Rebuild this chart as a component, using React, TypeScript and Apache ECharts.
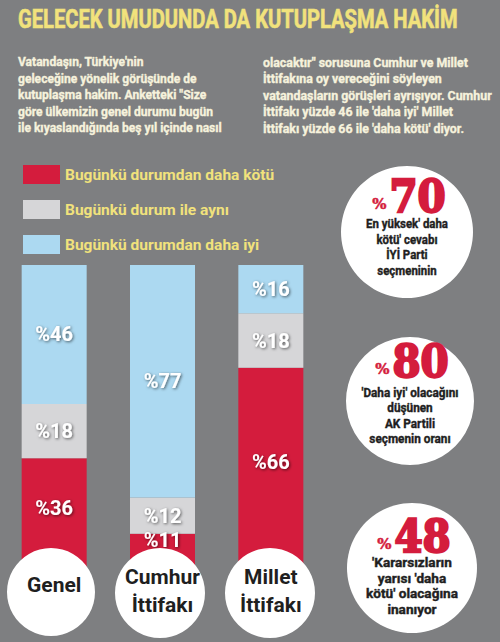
import React, { useEffect, useRef } from "react";
import * as echarts from "echarts";

// ---- data ----
const categories = ["Genel", "Cumhur\nİttifakı", "Millet\nİttifakı"];
const seriesNames = [
  "Bugünkü durumdan daha kötü",
  "Bugünkü durum ile aynı",
  "Bugünkü durumdan daha iyi",
];
const worse = [36, 11, 66];
const same = [18, 12, 18];
const better = [46, 77, 16];

const titleText = "GELECEK UMUDUNDA DA KUTUPLAŞMA HAKİM";
const introLeft = [
  "Vatandaşın, Türkiye'nin",
  "geleceğine yönelik görüşünde de",
  "kutuplaşma hakim. Anketteki \"Size",
  "göre ülkemizin genel durumu bugün",
  "ile kıyaslandığında beş yıl içinde nasıl",
];
const introRight = [
  "olacaktır\" sorusuna Cumhur ve Millet",
  "İttifakına oy vereceğini söyleyen",
  "vatandaşların görüşleri ayrışıyor. Cumhur",
  "İttifakı yüzde 46 ile 'daha iyi' Millet",
  "İttifakı yüzde 66 ile 'daha kötü' diyor.",
];
const calloutValues = [70, 80, 48];
const calloutLines = [
  ["En yüksek' daha", "kötü' cevabı", "İYİ Parti", "seçmeninin"],
  ["'Daha iyi' olacağını", "düşünen", "AK Partili", "seçmenin oranı"],
  ["'Kararsızların", "yarısı 'daha", "kötü' olacağına", "inanıyor"],
];

// ---- styling / layout ----
const BG = "#7e7f81";
const RED = "#d41c3d";
const GRAY = "#d6d6d8";
const BLUE = "#acd9f1";
const YELLOW = "#f1e27c";
const CREAM = "#f6f2dc";
const DARK = "#1f1f1f";

const calloutPos = [
  { cx: 407, cy: 232, r: 66, numY: 196, lineY: 224 },
  { cx: 410, cy: 401, r: 64, numY: 361, lineY: 392 },
  { cx: 412, cy: 568, r: 65, numY: 536, lineY: 563 },
];
const calloutWidths = [82, 97, 92];
const bottomCircles = [
  { cx: 51, cy: 592, r: 44 },
  { cx: 160, cy: 593, r: 45 },
  { cx: 270, cy: 593, r: 45 },
];
const redLabelOffsets = [-5, -10, -5];

let measureCtx: CanvasRenderingContext2D | null = null;
function measure(text: string, font: string): number {
  if (!measureCtx) measureCtx = document.createElement("canvas").getContext("2d");
  if (!measureCtx) return text.length * 7;
  measureCtx.font = font;
  return measureCtx.measureText(text).width;
}
function fit(lines: string[], font: string, target: number): number {
  const w = Math.max(...lines.map((l) => measure(l, font)));
  return w > 0 ? target / w : 1;
}

function textEl(
  text: string,
  x: number,
  y: number,
  font: string,
  fill: string,
  align: string,
  scaleX = 1,
  strokeW = 0
) {
  const style: any = {
    text,
    font,
    fill,
    align,
    textAlign: align,
    verticalAlign: "middle",
    textVerticalAlign: "middle",
  };
  if (strokeW > 0) {
    style.stroke = fill;
    style.lineWidth = strokeW;
  }
  return { type: "text", x, y, scaleX, z: 30, style };
}

export default function App() {
  const ref = useRef<HTMLDivElement>(null);

  useEffect(() => {
    if (!ref.current) return;
    const chart = echarts.init(ref.current, undefined, { renderer: "svg" });

    const graphics: any[] = [];

    // title
    const titleFont = "bold 25px Roboto";
    graphics.push(textEl(titleText, 18, 20, titleFont, YELLOW, "left", fit([titleText], titleFont, 440), 0.6));

    // intro paragraph
    const pFont = "bold 12.5px Roboto";
    const sL = fit(introLeft, pFont, 204);
    const sR = fit(introRight, pFont, 229);
    introLeft.forEach((l, i) => graphics.push(textEl(l, 18, 62 + i * 16.6, pFont, CREAM, "left", sL, 0.35)));
    introRight.forEach((l, i) => graphics.push(textEl(l, 263, 62 + i * 16.6, pFont, CREAM, "left", sR, 0.35)));

    // bottom circles (category labels sit on top via xAxis z)
    bottomCircles.forEach((c) =>
      graphics.push({ type: "circle", z: 10, shape: { cx: c.cx, cy: c.cy, r: c.r }, style: { fill: "#ffffff" } })
    );

    // right callouts
    const numFont = 'bold 44px "DejaVu Serif"';
    const pctFont = 'bold 15px "DejaVu Serif"';
    const lFont = "bold 13px Roboto";
    calloutValues.forEach((v, i) => {
      const p = calloutPos[i];
      graphics.push({ type: "circle", z: 10, shape: { cx: p.cx, cy: p.cy, r: p.r }, style: { fill: "#ffffff" } });
      const numSx = 0.92;
      const numW = measure(String(v), numFont) * numSx;
      const pctW = measure("%", pctFont);
      const left = p.cx - (numW + pctW + 3) / 2 + 2;
      graphics.push(textEl("%", left, p.numY + 8, pctFont, RED, "left", 1, 0.5));
      graphics.push(textEl(String(v), left + pctW + 3, p.numY, numFont, RED, "left", numSx, 2.4));
      const s = fit(calloutLines[i], lFont, calloutWidths[i]);
      calloutLines[i].forEach((l, j) =>
        graphics.push(textEl(l, p.cx, p.lineY + j * 15.5, lFont, DARK, "center", s, 0.4))
      );
    });

    const labelBase = {
      show: true,
      position: "inside",
      formatter: "%{c}",
      color: "#ffffff",
      fontFamily: "Roboto",
      fontWeight: "bold",
      fontSize: 20,
      textShadowColor: "rgba(0,0,0,0.6)",
      textShadowBlur: 3,
      textShadowOffsetX: 1,
      textShadowOffsetY: 1,
    };

    chart.setOption({
      animation: false,
      backgroundColor: BG,
      legend: {
        data: seriesNames,
        orient: "vertical",
        left: 18,
        top: 160,
        itemWidth: 37,
        itemHeight: 19,
        itemGap: 16,
        icon: "rect",
        selectedMode: false,
        textStyle: { color: YELLOW, fontWeight: "bold", fontSize: 15.5, fontFamily: "Roboto" },
      },
      grid: { left: -4, top: 265, width: 329, height: 302 },
      xAxis: {
        type: "category",
        z: 20,
        data: categories.map((c, i) =>
          i === 0 ? { value: c, textStyle: { padding: [8, 0, 0, 0] } } : { value: c }
        ),
        axisLine: { show: false },
        axisTick: { show: false },
        axisLabel: {
          color: DARK,
          fontWeight: "bold",
          fontFamily: "Roboto",
          fontSize: 21,
          lineHeight: 28,
          margin: -4,
          interval: 0,
        },
      },
      yAxis: { type: "value", min: 0, max: 100, show: false },
      graphic: graphics,
      series: [
        {
          name: seriesNames[0],
          type: "bar",
          stack: "all",
          barWidth: 65,
          itemStyle: { color: RED },
          label: labelBase,
          data: worse.map((v, i) => ({ value: v, label: { offset: [0, redLabelOffsets[i]] } })),
        },
        {
          name: seriesNames[1],
          type: "bar",
          stack: "all",
          barWidth: 65,
          itemStyle: { color: GRAY },
          label: labelBase,
          data: same,
        },
        {
          name: seriesNames[2],
          type: "bar",
          stack: "all",
          barWidth: 65,
          itemStyle: { color: BLUE },
          label: labelBase,
          data: better,
        },
      ],
    });

    return () => chart.dispose();
  }, []);

  return (
    <div
      ref={ref}
      style={{ position: "fixed", left: 0, top: 0, width: 500, height: 642 }}
    />
  );
}
